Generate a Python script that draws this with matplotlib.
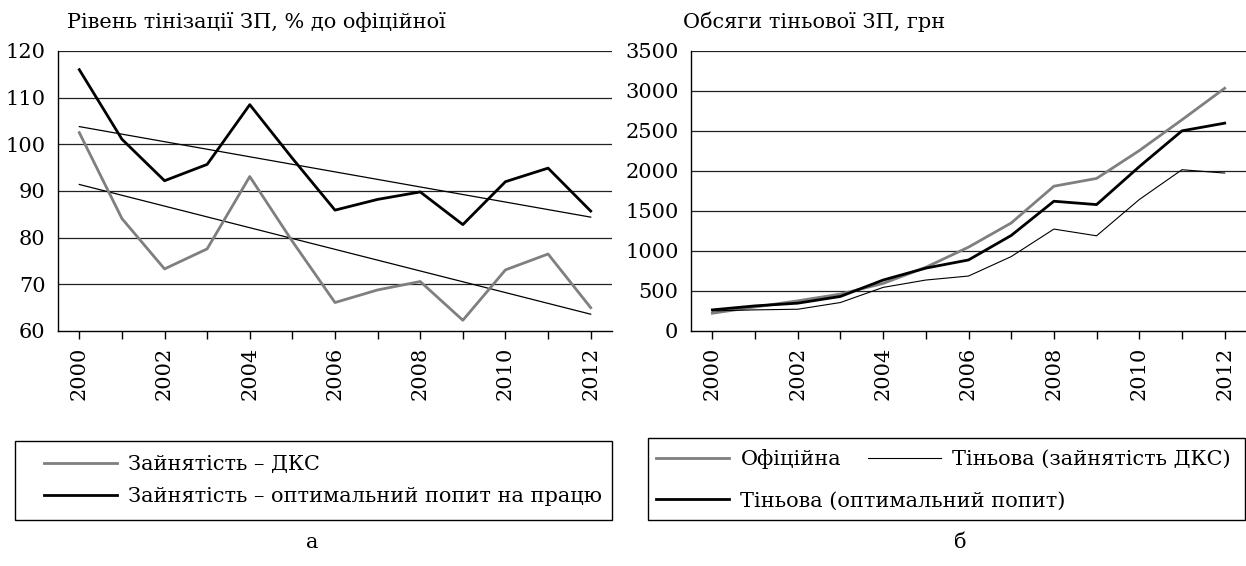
import matplotlib
matplotlib.use("Agg")
import matplotlib.pyplot as plt
from matplotlib.patches import Rectangle
import numpy as np

years = list(range(2000, 2013))

# panel a: shadow wage level, % of official
level_dks = [102.5, 84.1, 73.3, 77.6, 93.1, 79.2, 66.1, 68.8, 70.6, 62.3, 73.1, 76.5, 65.0]
level_opt = [116.0, 101.1, 92.2, 95.7, 108.5, 97.0, 85.9, 88.2, 89.8, 82.8, 92.0, 94.9, 85.7]
# linear trend lines (values at 2000 and 2012)
trend_dks = [91.4, 63.6]
trend_opt = [103.8, 84.4]

# panel b: shadow wage volume, UAH
wage_official = [222, 300, 377, 461, 595, 796, 1048, 1350, 1810, 1907, 2255, 2640, 3034]
wage_dks = [251, 264, 272, 356, 545, 637, 687, 930, 1274, 1190, 1643, 2016, 1974]
wage_opt = [264, 314, 348, 432, 637, 786, 888, 1194, 1622, 1580, 2054, 2502, 2598]

plt.rcParams['font.family'] = ['DejaVu Serif']
FS = 15
GRAY = '#7f7f7f'

fig = plt.figure(figsize=(12.46, 5.66), dpi=100)
W, H = 1246, 566


def fig_rect(x0, y0, x1, y1):
    return [x0 / W, 1 - y1 / H, (x1 - x0) / W, (y1 - y0) / H]


def style_axes(ax, yticks):
    x = np.arange(len(years))
    ax.set_xlim(-0.5, len(years) - 0.5)
    ax.set_ylim(yticks[0], yticks[-1])
    ax.set_yticks(yticks)
    ax.set_xticks(x)
    ax.set_xticklabels([str(y) if y % 2 == 0 else '' for y in years], rotation=90)
    for s in ['top', 'right']:
        ax.spines[s].set_visible(False)
    ax.spines['left'].set_linewidth(1.0)
    ax.spines['bottom'].set_linewidth(1.0)
    ax.tick_params(axis='y', length=0, labelsize=FS, pad=9)
    ax.tick_params(axis='x', length=6, width=1.0, labelsize=FS, pad=5)
    for v in yticks[1:]:
        ax.axhline(v, color='#222222', lw=0.9, zorder=1)


x = np.arange(len(years))

# ---- panel a
ax1 = fig.add_axes(fig_rect(58, 51, 612, 331))
style_axes(ax1, [60, 70, 80, 90, 100, 110, 120])
l1, = ax1.plot(x, level_dks, color=GRAY, lw=2.0, zorder=3)
l2, = ax1.plot(x, level_opt, color='black', lw=2.0, zorder=3)
ax1.plot([x[0], x[-1]], trend_dks, color='black', lw=0.9, zorder=2)
ax1.plot([x[0], x[-1]], trend_opt, color='black', lw=0.9, zorder=2)
fig.text(67 / W, 1 - 22 / H, 'Рівень тінізації ЗП, % до офіційної', fontsize=FS,
         va='center', ha='left')

# ---- panel b
ax2 = fig.add_axes(fig_rect(691, 51, 1246, 331))
style_axes(ax2, [0, 500, 1000, 1500, 2000, 2500, 3000, 3500])
r1, = ax2.plot(x, wage_official, color=GRAY, lw=2.0, zorder=3)
r2, = ax2.plot(x, wage_dks, color='black', lw=0.8, zorder=3)
r3, = ax2.plot(x, wage_opt, color='black', lw=2.0, zorder=4)
fig.text(683 / W, 1 - 22 / H, 'Обсяги тіньової ЗП, грн', fontsize=FS,
         va='center', ha='left')

# ---- legends with hand-drawn frames
fig.add_artist(Rectangle((15 / W, 1 - 520 / H), (612 - 15) / W, (520 - 441) / H,
                         transform=fig.transFigure, fill=False, lw=1.0, ec='black'))
fig.legend([l1, l2], ['Зайнятість – ДКС', 'Зайнятість – оптимальний попит на працю'],
           loc='upper left', bbox_to_anchor=(44 / W, 1 - 455 / H), frameon=False,
           fontsize=FS, handlelength=3.5, handletextpad=0.55, labelspacing=0.64,
           borderaxespad=0, borderpad=0)

fig.add_artist(Rectangle((648 / W, 1 - 520 / H), (1245 - 648) / W, (520 - 438) / H,
                         transform=fig.transFigure, fill=False, lw=1.0, ec='black'))
fig.legend([r1, r3, r2], ['Офіційна', 'Тіньова (оптимальний попит)', 'Тіньова (зайнятість ДКС)'],
           loc='upper left', bbox_to_anchor=(656 / W, 1 - 449 / H), frameon=False,
           fontsize=FS, ncol=2, handlelength=3.5, handletextpad=0.55, labelspacing=1.09,
           columnspacing=-9.5, borderaxespad=0, borderpad=0)

fig.text(312 / W, 1 - 542 / H, 'а', fontsize=FS, ha='center', va='center')
fig.text(960 / W, 1 - 542 / H, 'б', fontsize=FS, ha='center', va='center')

fig.savefig('out.png', dpi=100)
